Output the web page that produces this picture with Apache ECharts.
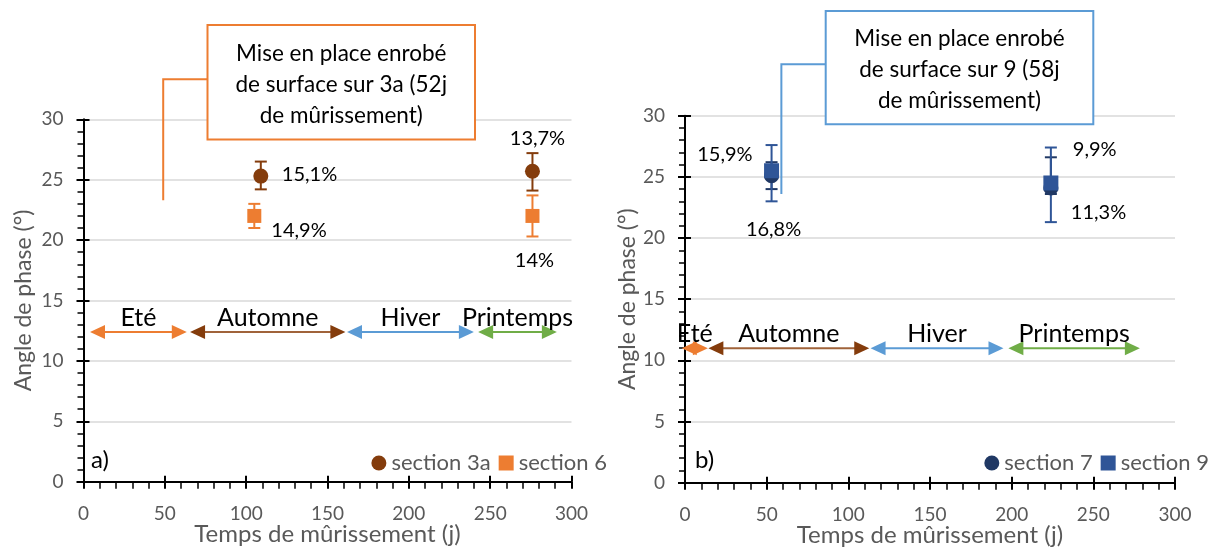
<!DOCTYPE html>
<html>
<head>
<meta charset="utf-8">
<script src="https://cdn.jsdelivr.net/npm/echarts@6/dist/echarts.min.js"></script>
<style>
html,body{margin:0;padding:0;background:#fff;}
#c{width:1219px;height:549px;}
</style>
</head>
<body>
<div id="c"></div>
<script>
// ---------- DATA ----------
const X_MIN = 0, X_MAX = 300, X_STEP = 50;
const Y_MIN = 0, Y_MAX = 30, Y_STEP = 5;
const xTitle = 'Temps de mûrissement (j)';
const yTitle = 'Angle de phase (°)';

// chart a)
const days3a = [109, 276];
const angle3a = [25.3, 25.7];
const low3a = [24.2, 24.1];
const high3a = [26.5, 27.2];
const pct3a = ['15,1%', '13,7%'];

const days6 = [105, 276];
const angle6 = [22.0, 22.0];
const low6 = [21.0, 20.3];
const high6 = [23.0, 23.7];
const pct6 = ['14,9%', '14%'];

// chart b)
const days7 = [53, 224];
const angle7 = [25.1, 24.1];
const low7 = [24.0, 23.6];
const high7 = [26.2, 26.6];
const pct7 = ['16,8%', '11,3%'];

const days9 = [53, 224];
const angle9 = [25.5, 24.5];
const low9 = [23.0, 21.3];
const high9 = [27.6, 27.4];
const pct9 = ['15,9%', '9,9%'];

// seasons
const seasons = ['Eté', 'Automne', 'Hiver', 'Printemps'];
const seasonStartA = [4, 65.5, 162, 242.6];
const seasonEndA = [63.5, 161, 240, 291];
const seasonLevelA = 12.4;
const seasonStartB = [-2, 14.3, 113.6, 198];
const seasonEndB = [14, 112.8, 195, 278.5];
const seasonLevelB = 11;

// callouts
const calloutTextA = 'Mise en place enrobé\nde surface sur 3a (52j\nde mûrissement)';
const calloutTextB = 'Mise en place enrobé\nde surface sur 9 (58j\nde mûrissement)';
const calloutDayA = 49, calloutBottomA = 23.3;
const calloutDayB = 59, calloutBottomB = 23.6;

const legendA = ['section 3a', 'section 6'];
const legendB = ['section 7', 'section 9'];

// ---------- STYLE ----------
const FONT = 'Lato, "Open Sans", sans-serif';
const GREY = '#595959';
const C3a = '#843C0C', C6 = '#ED7D31', C7 = '#203864', C9 = '#2F5597';
const seasonHead = ['#ED7D31', '#843C0C', '#5B9BD5', '#70AD47'];
const seasonLine = ['#ED7D31', '#A0633A', '#5B9BD5', '#70AD47'];

const grids = [
  {left: 83.5, right: 1219 - 571.5, top: 119.3, bottom: 549 - 481.7, containLabel: false, outerBoundsMode: 'none'},
  {left: 685, right: 1219 - 1175, top: 115.7, bottom: 549 - 482.7, containLabel: false, outerBoundsMode: 'none'}
];

function mainX(gi) {
  return {
    type: 'value', gridIndex: gi, min: X_MIN, max: X_MAX, interval: X_STEP,
    name: xTitle, nameLocation: 'middle', nameGap: 41, nameMoveOverlap: false,
    nameTextStyle: {fontFamily: FONT, fontSize: 24, color: GREY},
    axisLine: {show: true, onZero: false, lineStyle: {color: '#000', width: 2}},
    axisTick: {show: true, inside: false, length: 7, lineStyle: {color: '#000', width: 2}},
    minorTick: {show: true, splitNumber: 5, length: 7, lineStyle: {color: '#000', width: 1.5}},
    axisLabel: {fontFamily: FONT, fontSize: 19, color: GREY, margin: 23},
    splitLine: {show: false}
  };
}
function overX(gi) {
  return {
    type: 'value', gridIndex: gi, min: X_MIN, max: X_MAX, interval: X_STEP, position: 'bottom',
    axisLine: {show: false}, axisLabel: {show: false}, splitLine: {show: false},
    axisTick: {show: true, inside: true, length: 6, lineStyle: {color: '#000', width: 2}}
  };
}
function mainY(gi, gap) {
  return {
    type: 'value', gridIndex: gi, min: Y_MIN, max: Y_MAX, interval: Y_STEP,
    name: yTitle, nameLocation: 'middle', nameGap: gap, nameRotate: 90, nameMoveOverlap: false,
    nameTextStyle: {fontFamily: FONT, fontSize: 23, color: GREY},
    axisLine: {show: true, onZero: false, lineStyle: {color: '#000', width: 2}},
    axisTick: {show: true, inside: false, length: 7, lineStyle: {color: '#000', width: 2}},
    minorTick: {show: true, splitNumber: 5, length: 6, lineStyle: {color: '#000', width: 1.5}},
    axisLabel: {fontFamily: FONT, fontSize: 19, color: GREY, margin: 20},
    splitLine: {show: true, lineStyle: {color: '#D9D9D9', width: 1.5}}
  };
}
function overY(gi) {
  return {
    type: 'value', gridIndex: gi, min: Y_MIN, max: Y_MAX, interval: Y_STEP, position: 'left',
    axisLine: {show: false}, axisLabel: {show: false}, splitLine: {show: false},
    axisTick: {show: true, inside: true, length: 6, lineStyle: {color: '#000', width: 2}}
  };
}

function pointData(days, angles, pcts, labelStyles) {
  return days.map((d, i) => ({
    value: [d, angles[i]],
    label: Object.assign({show: true, position: 'inside', formatter: pcts[i],
      fontFamily: FONT, fontSize: 20, color: '#000'}, labelStyles[i])
  }));
}
function errData(days, lows, highs) {
  return days.map((d, i) => [d, lows[i], highs[i]]);
}
function errSeries(name, xi, yi, days, lows, highs, color) {
  return {
    type: 'custom', name: name + '_err', xAxisIndex: xi, yAxisIndex: yi, z: 2,
    data: errData(days, lows, highs),
    renderItem: function (params, api) {
      const x = api.value(0);
      const p1 = api.coord([x, api.value(1)]);
      const p2 = api.coord([x, api.value(2)]);
      const st = {stroke: color, lineWidth: 2};
      return {type: 'group', children: [
        {type: 'line', shape: {x1: p1[0], y1: p1[1], x2: p2[0], y2: p2[1]}, style: st},
        {type: 'line', shape: {x1: p1[0] - 6, y1: p1[1], x2: p1[0] + 6, y2: p1[1]}, style: st},
        {type: 'line', shape: {x1: p2[0] - 6, y1: p2[1], x2: p2[0] + 6, y2: p2[1]}, style: st}
      ]};
    }
  };
}
function seasonSeries(xi, yi, starts, ends, level) {
  return {
    type: 'custom', xAxisIndex: xi, yAxisIndex: yi, z: 3, clip: false,
    data: starts.map((s, i) => [s, ends[i], level, i]),
    renderItem: function (params, api) {
      const i = api.value(3);
      const a = api.coord([api.value(0), api.value(2)]);
      const b = api.coord([api.value(1), api.value(2)]);
      const L = 15, H = 7;
      return {type: 'group', children: [
        {type: 'line', shape: {x1: a[0] + 4, y1: a[1], x2: b[0] - 4, y2: b[1]},
          style: {stroke: seasonLine[i], lineWidth: 2}},
        {type: 'polygon', shape: {points: [[a[0], a[1]], [a[0] + L, a[1] - H], [a[0] + L, a[1] + H]]},
          style: {fill: seasonHead[i]}},
        {type: 'polygon', shape: {points: [[b[0], b[1]], [b[0] - L, b[1] - H], [b[0] - L, b[1] + H]]},
          style: {fill: seasonHead[i]}},
        {type: 'text', x: (a[0] + b[0]) / 2, y: a[1] - 14,
          style: {text: seasons[i], font: '25px ' + FONT, fill: '#000', align: 'center', verticalAlign: 'middle'}}
      ]};
    }
  };
}

const lbl3a = [{align: 'left', offset: [21, -2]}, {align: 'center', offset: [5, -33]}];
const lbl6 = [{align: 'left', offset: [17, 15]}, {align: 'center', offset: [2, 45]}];
const lbl7 = [{align: 'center', offset: [2, 54]}, {align: 'left', offset: [20, 25]}];
const lbl9 = [{align: 'right', offset: [-19, -16]}, {align: 'left', offset: [22, -33]}];

const option = {
  animation: false,
  backgroundColor: '#fff',
  grid: grids,
  xAxis: [mainX(0), mainX(1), overX(0), overX(1)],
  yAxis: [mainY(0, 48), mainY(1, 46), overY(0), overY(1)],
  legend: [
    {data: [{name: legendA[0], icon: 'circle'}, {name: legendA[1], icon: 'rect'}],
      right: 1219 - 607, top: 452, itemWidth: 15, itemHeight: 15, itemGap: 8,
      textStyle: {fontFamily: FONT, fontSize: 22, color: GREY}, padding: 0},
    {data: [{name: legendB[0], icon: 'circle'}, {name: legendB[1], icon: 'rect'}],
      right: 1219 - 1209, top: 452, itemWidth: 15, itemHeight: 15, itemGap: 8,
      textStyle: {fontFamily: FONT, fontSize: 22, color: GREY}, padding: 0}
  ],
  series: [
    seasonSeries(0, 0, seasonStartA, seasonEndA, seasonLevelA),
    seasonSeries(1, 1, seasonStartB, seasonEndB, seasonLevelB),
    errSeries(legendA[0], 0, 0, days3a, low3a, high3a, C3a),
    errSeries(legendA[1], 0, 0, days6, low6, high6, C6),
    errSeries(legendB[0], 1, 1, days7, low7, high7, C7),
    errSeries(legendB[1], 1, 1, days9, low9, high9, C9),
    {type: 'scatter', name: legendA[0], xAxisIndex: 0, yAxisIndex: 0, z: 4,
      symbol: 'circle', symbolSize: 15, itemStyle: {color: C3a, opacity: 1},
      data: pointData(days3a, angle3a, pct3a, lbl3a)},
    {type: 'scatter', name: legendA[1], xAxisIndex: 0, yAxisIndex: 0, z: 4,
      symbol: 'rect', symbolSize: 14, itemStyle: {color: C6, opacity: 1},
      data: pointData(days6, angle6, pct6, lbl6)},
    {type: 'scatter', name: legendB[0], xAxisIndex: 1, yAxisIndex: 1, z: 4,
      symbol: 'circle', symbolSize: 15, itemStyle: {color: C7, opacity: 1},
      data: pointData(days7, angle7, pct7, lbl7)},
    {type: 'scatter', name: legendB[1], xAxisIndex: 1, yAxisIndex: 1, z: 5,
      symbol: 'rect', symbolSize: 15, itemStyle: {color: C9, opacity: 1},
      data: pointData(days9, angle9, pct9, lbl9)}
  ]
};

const chart = echarts.init(document.getElementById('c'), null, {renderer: 'canvas'});
chart.setOption(option);

// callouts and panel letters
const pA = chart.convertToPixel({xAxisIndex: 0, yAxisIndex: 0}, [calloutDayA, calloutBottomA]);
const pB = chart.convertToPixel({xAxisIndex: 1, yAxisIndex: 1}, [calloutDayB, calloutBottomB]);
const boxA = {x: 207.5, y: 25, w: 267.5, h: 114.5, ly: 79.3};
const boxB = {x: 825.7, y: 11, w: 267.6, h: 113.3, ly: 64.3};
function callout(box, p, text, color) {
  return [
    {type: 'polyline', z: 10, shape: {points: [[box.x, box.ly], [p[0], box.ly], [p[0], p[1]]]},
      style: {stroke: color, lineWidth: 2, fill: null}},
    {type: 'rect', z: 11, shape: {x: box.x, y: box.y, width: box.w, height: box.h},
      style: {fill: '#fff', stroke: color, lineWidth: 2}},
    {type: 'text', z: 12, x: box.x + box.w / 2, y: box.y + box.h / 2 + 2,
      style: {text: text, font: '22.5px ' + FONT, fill: '#000', align: 'center', verticalAlign: 'middle', lineHeight: 31}}
  ];
}
chart.setOption({
  graphic: [].concat(
    callout(boxA, pA, calloutTextA, '#ED7D31'),
    callout(boxB, pB, calloutTextB, '#5B9BD5'),
    [{type: 'text', left: 91, top: 448, style: {text: 'a)', font: '24px ' + FONT, fill: '#000'}},
     {type: 'text', left: 695, top: 448, style: {text: 'b)', font: '24px ' + FONT, fill: '#000'}}]
  )
});
</script>
</body>
</html>
